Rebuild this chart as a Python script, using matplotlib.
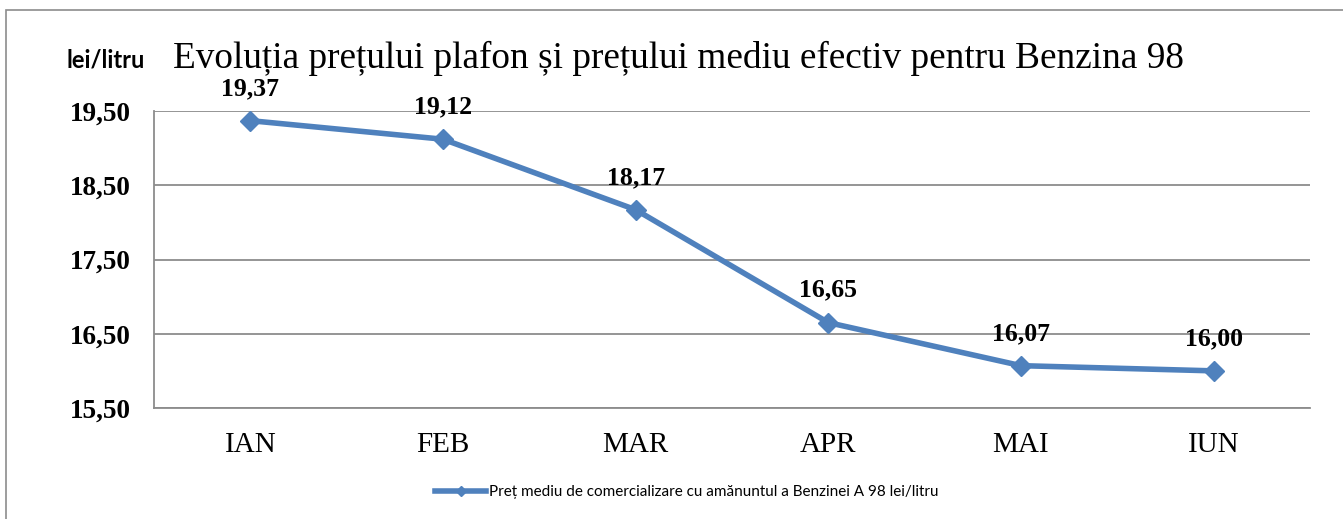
import matplotlib
matplotlib.use("Agg")
import matplotlib.pyplot as plt
from matplotlib.patches import Rectangle

# data
months = ["IAN", "FEB", "MAR", "APR", "MAI", "IUN"]
prices = [19.37, 19.12, 18.17, 16.65, 16.07, 16.00]
yticks = [15.50, 16.50, 17.50, 18.50, 19.50]

LINE = "#4F81BD"
GRID = "#8C8C8C"
SERIF = "Liberation Serif"
SANS = "Lato"

fig = plt.figure(figsize=(13.43, 5.19), dpi=100, facecolor="white")
ax = fig.add_axes([0.1147, 0.2139, 0.8607, 0.5722])

# outer chart border (left + top visible)
fig.patches.append(Rectangle((0.0045, -0.05), 1.2, 1.03, transform=fig.transFigure,
                             fill=False, edgecolor=GRID, linewidth=1.2))

x = range(len(months))
ax.plot(x, prices, color=LINE, linewidth=4, marker="D", markersize=10,
        label="Preț mediu de comercializare cu amănuntul a Benzinei A 98 lei/litru",
        zorder=3)

for xi, v in zip(x, prices):
    ax.annotate(f"{v:.2f}".replace(".", ","), (xi, v), xytext=(0, 15),
                textcoords="offset points", ha="center", va="bottom",
                fontsize=18.5, fontweight="bold", family=SERIF, clip_on=False)

ax.set_xlim(-0.5, len(months) - 0.5)
ax.set_ylim(15.5, 19.5)
ax.set_yticks(yticks)
ax.set_yticklabels([f"{t:.2f}".replace(".", ",") for t in yticks],
                   fontsize=19.5, fontweight="bold", family=SERIF)
ax.set_xticks(list(x))
ax.set_xticklabels(months, fontsize=21, family=SERIF)
ax.tick_params(axis="x", length=0, pad=17)
ax.tick_params(axis="y", length=0, pad=17)

ax.grid(axis="y", color=GRID, linewidth=1.3)
ax.set_axisbelow(True)
for s in ["top", "right"]:
    ax.spines[s].set_visible(False)
for s in ["left", "bottom"]:
    ax.spines[s].set_color(GRID)
    ax.spines[s].set_linewidth(1.3)

fig.text(0.5055, 0.888, "Evoluția prețului plafon și prețului mediu efectiv pentru Benzina 98",
         ha="center", va="center", fontsize=26.8, family=SERIF)
fig.text(0.079, 0.884, "lei/litru", ha="center", va="center",
         fontsize=17, fontweight="bold", family=SANS)

fig.legend(loc="center", bbox_to_anchor=(0.5115, 0.052), frameon=False,
           prop={"family": SANS, "size": 11}, handlelength=3.3,
           handletextpad=0.2, markerscale=0.5)

fig.savefig("out.png", dpi=100, facecolor="white")
